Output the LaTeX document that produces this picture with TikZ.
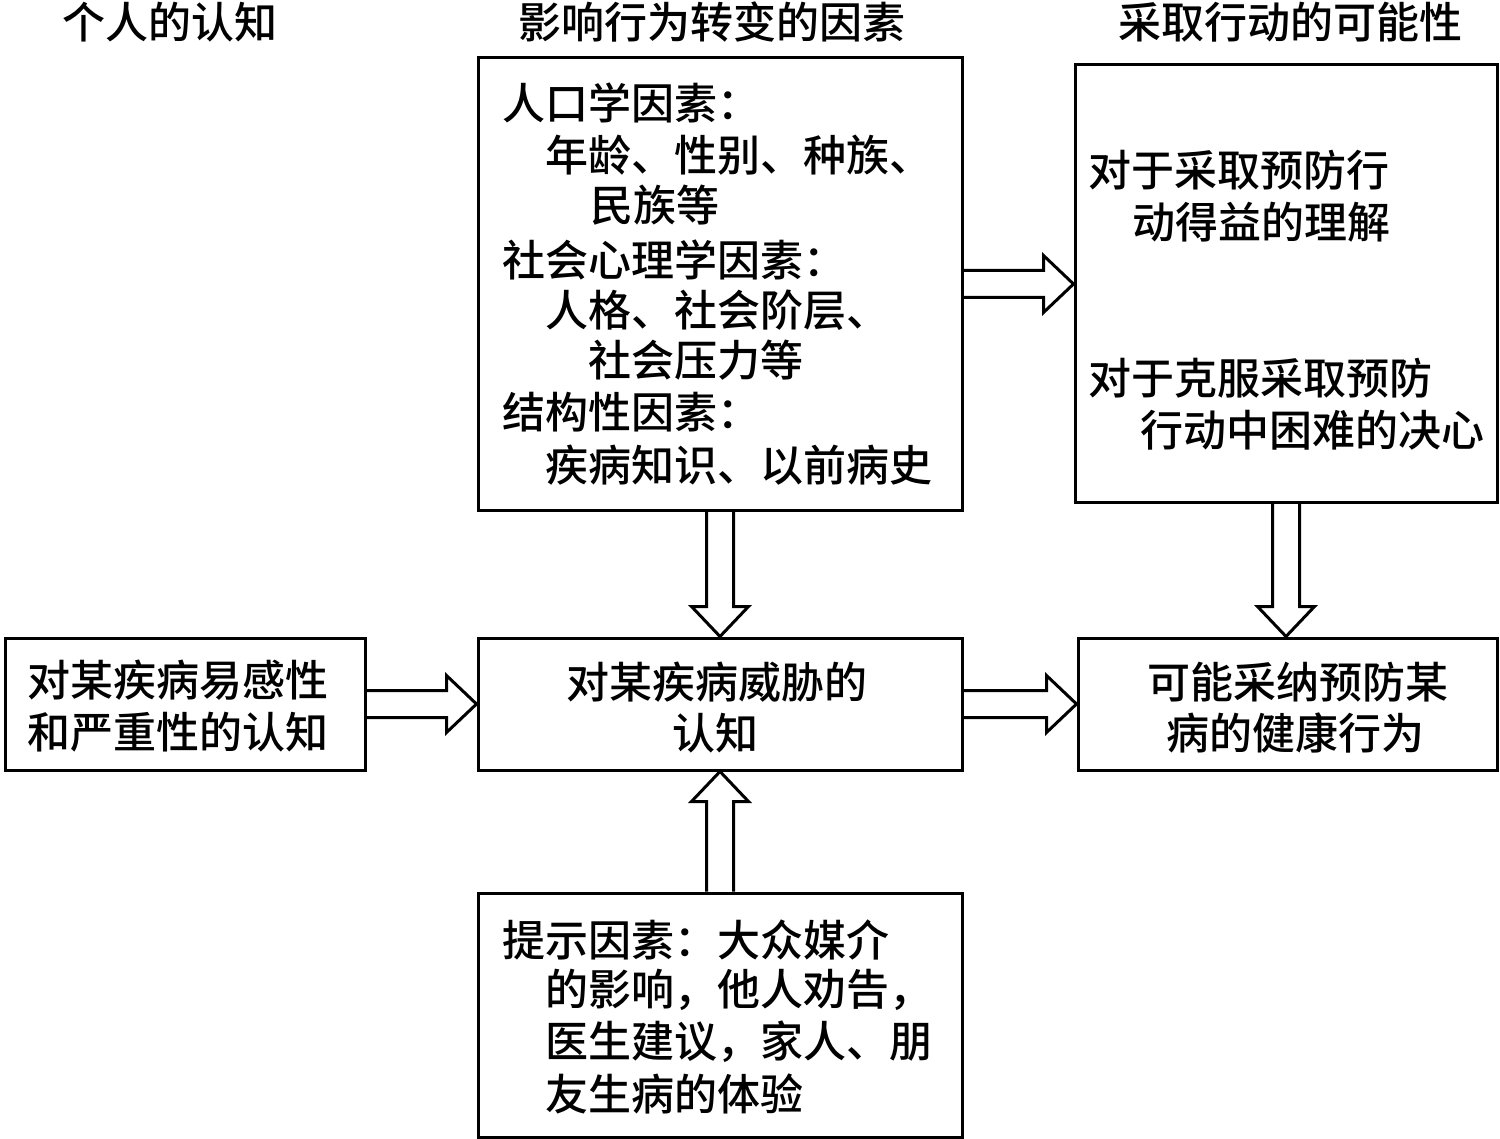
\documentclass[tikz,border=0pt]{standalone}
\usepackage{fontspec}
\setmainfont{Noto Sans CJK SC}[UprightFont=* Medium]
\usetikzlibrary{calc}
\tikzset{
  box/.style={draw, line width=3pt, inner sep=0pt},
  txt/.style={inner sep=0pt, anchor=west, font=\fontsize{43}{52}\selectfont},
  ctxt/.style={inner sep=0pt, anchor=center, font=\fontsize{43}{52}\selectfont},
  blockline/.style={draw, line width=3pt, line join=miter},
}
\newcommand\blkarrow[2]{%
  \path[blockline] let \p1=#1, \p2=#2, \n1={atan2(\y2-\y1,\x2-\x1)}, \n2={veclen(\x2-\x1,\y2-\y1)} in
   [shift={(\p1)}, rotate=\n1, x=1pt, y=1pt]
   (0,-13.5) -- (\n2-30,-13.5) -- (\n2-30,-28.5) -- (\n2,0) -- (\n2-30,28.5) -- (\n2-30,13.5) -- (0,13.5);}
\begin{document}
\begin{tikzpicture}[x=1pt, y=-1pt]
\useasboundingbox (0,0) rectangle (1500,1139);
% headers
\node[ctxt] (h1) at (170,22) {个人的认知};
\node[ctxt] (h2) at (712,22) {影响行为转变的因素};
\node[ctxt] (h3) at (1290,22) {采取行动的可能性};
% boxes
\node[box, minimum width=484pt, minimum height=452pt] (top) at (720,284) {};
\node[box, minimum width=422pt, minimum height=437pt] (topr) at (1286,283.5) {};
\node[box, minimum width=360pt, minimum height=132pt] (left) at (185,704) {};
\node[box, minimum width=484pt, minimum height=132pt] (center) at (720,704) {};
\node[box, minimum width=419pt, minimum height=132pt] (rmid) at (1287.5,704) {};
\node[box, minimum width=484pt, minimum height=244pt] (bottom) at (720,1015) {};
% top box text
\node[txt] (t1) at (502,103) {人口学因素：};
\node[txt] (t2) at (545,155) {年龄、性别、种族、};
\node[txt] (t3) at (590,205) {民族等};
\node[txt] (t4) at (502,260) {社会心理学因素：};
\node[txt] (t5) at (545,310) {人格、社会阶层、};
\node[txt] (t6) at (588,360) {社会压力等};
\node[txt] (t7) at (502,412) {结构性因素：};
\node[txt] (t8) at (545,465) {疾病知识、以前病史};
% top right text
\node[txt] (r1) at (1088,170) {对于采取预防行};
\node[txt] (r2) at (1132,222) {动得益的理解};
\node[txt] (r3) at (1088,378) {对于克服采取预防};
\node[txt] (r4) at (1140,430) {行动中困难的决心};
% left
\node[ctxt] (l1) at (178,680) {对某疾病易感性};
\node[ctxt] (l2) at (178,732) {和严重性的认知};
% center
\node[ctxt] (c1) at (717,682) {对某疾病威胁的};
\node[ctxt] (c2) at (715,733) {认知};
% right mid
\node[ctxt] (m1) at (1298,682) {可能采纳预防某};
\node[ctxt] (m2) at (1295,733) {病的健康行为};
% bottom
\node[txt] (b1) at (502,940) {提示因素：大众媒介};
\node[txt] (b2) at (545,990) {的影响，他人劝告，};
\node[txt] (b3) at (545,1042) {医生建议，家人、朋};
\node[txt] (b4) at (545,1094) {友生病的体验};
% arrows
\blkarrow{(top.east)}{(top.east -| topr.west)}
\blkarrow{(top.south)}{(center.north)}
\blkarrow{(topr.south)}{(topr.south |- rmid.north)}
\blkarrow{(left.east)}{(center.west)}
\blkarrow{(center.east)}{(rmid.west)}
\blkarrow{(bottom.north)}{(center.south)}
\end{tikzpicture}
\end{document}
